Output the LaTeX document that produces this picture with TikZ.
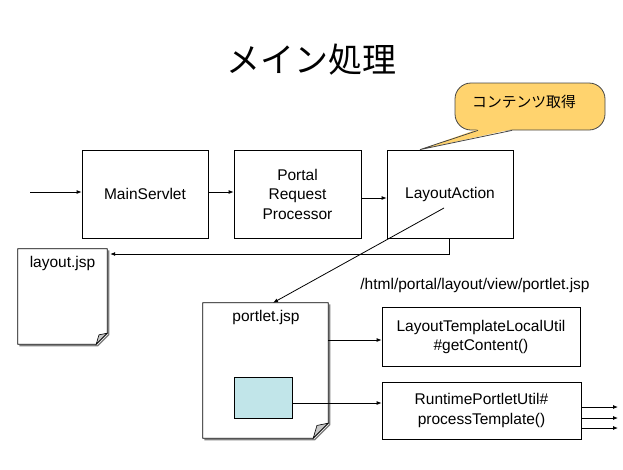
\documentclass[tikz,border=0pt]{standalone}
\usepackage{fontspec}
\setmainfont{Liberation Sans}
\newfontfamily\jpfont{Noto Sans CJK JP}
\usetikzlibrary{arrows.meta,calc}
\definecolor{calloutfill}{RGB}{255,211,110}
\definecolor{calloutline}{RGB}{70,70,70}
\definecolor{innerblue}{RGB}{193,229,233}
\definecolor{foldgray}{RGB}{200,200,200}
\newcommand{\mydocshape}[2]{%
  \draw[docshadow] ([xshift=1.5pt,yshift=-1.5pt]#1.north east) -- ([xshift=1.5pt,yshift={#2-1.5pt}]#1.south east) -- ([xshift={1.5pt-#2},yshift=-1.5pt]#1.south east) -- ([xshift=1.5pt,yshift=-1.5pt]#1.south west);
  \draw[docline] (#1.north west) -- (#1.north east) -- ([yshift=#2]#1.south east) -- ([xshift=-#2]#1.south east) -- (#1.south west) -- cycle;
  \filldraw[docfold] ([yshift=#2]#1.south east) -- ([xshift={-0.75*#2},yshift={0.85*#2}]#1.south east) -- ([xshift=-#2]#1.south east) -- cycle;
}
\begin{document}
\begin{tikzpicture}[x=1pt,y=-1pt,
  txt/.style={font=\fontsize{15.5}{19.5}\selectfont, inner sep=0pt, align=center},
  box/.style={draw, line width=0.8pt, txt},
  arr/.style={line width=0.8pt, -{Latex[length=5pt,width=4pt]}},
  docline/.style={draw, line width=0.8pt, fill=white},
  docshadow/.style={draw=gray, line width=1.5pt},
  docfold/.style={fill=foldgray, draw, line width=0.6pt},
  callout/.style={fill=calloutfill, draw=calloutline, line width=0.8pt, rounded corners=16pt}]
\useasboundingbox (0,0) rectangle (623,469);

% title
\node[font=\jpfont\fontsize{34}{40}\selectfont, inner sep=0pt] (title) at (311.5,60) {メイン処理};

% top row
\node[box, minimum width=126pt, minimum height=88pt] (ms) at (145,194) {MainServlet};
\node[box, minimum width=127pt, minimum height=88pt] (prp) at (297.5,194) {Portal\\Request\\Processor};
\node[box, minimum width=126pt, minimum height=88pt] (la) at (450,194) {LayoutAction};

\coordinate (in) at (30,192);
\draw[arr] (in) -- (in -| ms.west);
\draw[arr] ([yshift=2pt]ms.east) -- ([yshift=2pt]prp.west);
\draw[arr] ([yshift=-4pt]prp.east) -- ([yshift=-4pt]la.west);

% callout
\node[callout, minimum width=150pt, minimum height=47pt, inner sep=0pt] (co) at (530,106.5) {};
\coordinate (cotip) at ([xshift=-30pt]la.north);
\fill[calloutfill] ([xshift=-52pt,yshift=1.2pt]co.south) -- (cotip) -- ([xshift=-18pt,yshift=1.2pt]co.south) -- cycle;
\draw[calloutline, line width=0.8pt] ([xshift=-52pt]co.south) -- (cotip) -- ([xshift=-18pt]co.south);
\node[font=\jpfont\fontsize{14.8}{16}\selectfont, inner sep=0pt] (cotext) at (524,102) {コンテンツ取得};

% layout.jsp
\node[minimum width=89pt, minimum height=95pt, inner sep=0pt] (layout) at (62.5,296.5) {};
\mydocshape{layout}{11pt}
\node[txt] (layoutlbl) at (62.5,263) {layout.jsp};

\coordinate (bend) at (449,254);
\draw[arr] (la.south -| bend) -- (bend) -- ([xshift=3pt]bend -| layout.east);

% path text
\node[txt] (pathlbl) at (475,285) {/html/portal/layout/view/portlet.jsp};

% portlet.jsp
\node[minimum width=125pt, minimum height=135pt, inner sep=0pt] (portlet) at (265.5,370.5) {};
\mydocshape{portlet}{15pt}
\node[txt] (portletlbl) at (266,317) {portlet.jsp};
\node[draw, line width=0.8pt, fill=innerblue, minimum width=58pt, minimum height=41pt, inner sep=0pt] (blue) at (263,397.5) {};

\coordinate (d0) at (444,208);
\draw[arr] (d0) -- ([xshift=7.5pt]portlet.north);

% right boxes
\node[box, minimum width=198pt, minimum height=59pt] (ltlu) at (481,337) {LayoutTemplateLocalUtil\\\#getContent()};
\node[box, minimum width=199pt, minimum height=57pt] (rpu) at (481.5,410.5) {RuntimePortletUtil\#\\processTemplate()};

\draw[arr] ([yshift=-3pt]ltlu.west -| portlet.east) -- ([yshift=-3pt]ltlu.west);
\draw[arr] ([yshift=-5.5pt]blue.east) -- ([yshift=-5.5pt]blue.east -| rpu.west);

\coordinate (o1) at (618,407);
\coordinate (o2) at (618,418);
\coordinate (o3) at (618,428);
\draw[arr] (o1 -| rpu.east) -- (o1);
\draw[arr] (o2 -| rpu.east) -- (o2);
\draw[arr] (o3 -| rpu.east) -- (o3);
\end{tikzpicture}
\end{document}
